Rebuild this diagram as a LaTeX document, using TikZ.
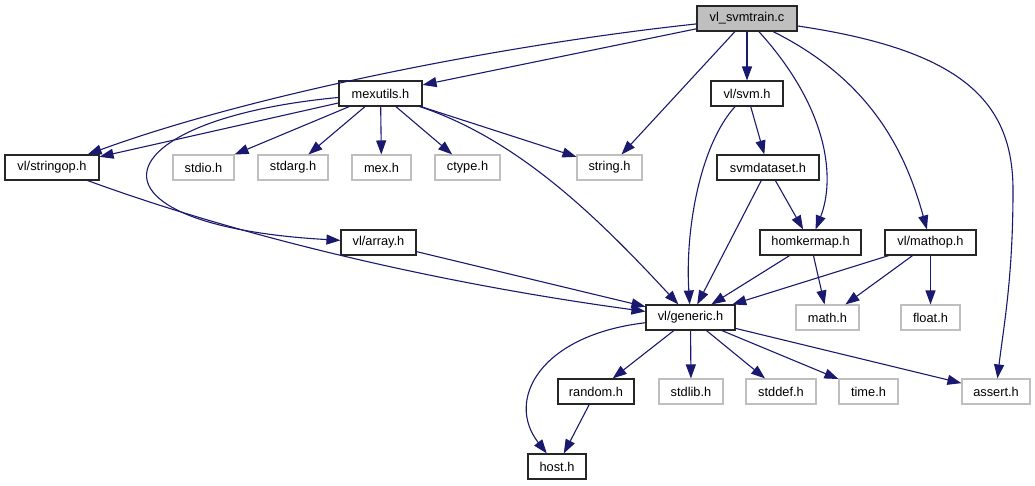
\documentclass[tikz,border=0pt]{standalone}
\usepackage{fontspec}
\setmainfont{Liberation Sans}
\usepackage{tikz}
\usetikzlibrary{arrows.meta}
\usepackage{xcolor}
\definecolor{edgeblue}{HTML}{191970}
\definecolor{boxgray}{HTML}{BFBFBF}

\begin{document}
\begin{tikzpicture}[x=1pt, y=-1pt, >={Triangle[length=14pt, width=10pt]},
        hdr/.style={draw=black!85, line width=1.1pt, minimum height=25pt, inner sep=0pt, font=\fontsize{12.8}{14}\selectfont},
        sys/.style={hdr, draw=boxgray},
        dep/.style={->, edgeblue, line width=1.1pt}]
        \useasboundingbox (0,0) rectangle (1035,485);
        \node (train) [hdr, fill=boxgray, minimum width=100pt] at (747,18.5) {vl\_svmtrain.c};
        \node (mexutils) [hdr, minimum width=83pt] at (380.5,93.5) {mexutils.h};
        \node (svm) [hdr, minimum width=72pt] at (747,93.5) {vl/svm.h};
        \node (stringop) [hdr, minimum width=94pt] at (52,167.5) {vl/stringop.h};
        \node (stdio) [sys, minimum width=61pt] at (203.5,167.5) {stdio.h};
        \node (stdarg) [sys, minimum width=70pt] at (293,167.5) {stdarg.h};
        \node (mex) [sys, minimum width=59pt] at (381.5,167.5) {mex.h};
        \node (ctype) [sys, minimum width=65pt] at (467.5,167.5) {ctype.h};
        \node (string) [sys, minimum width=65pt] at (609.5,167.5) {string.h};
        \node (svmdataset) [hdr, minimum width=102pt] at (768,167.5) {svmdataset.h};
        \node (array) [hdr, minimum width=75pt] at (378.5,242.5) {vl/array.h};
        \node (homkermap) [hdr, minimum width=101pt] at (810.5,242.5) {homkermap.h};
        \node (mathop) [hdr, minimum width=91pt] at (930.5,242.5) {vl/mathop.h};
        \node (generic) [hdr, minimum width=89pt] at (690.5,317.5) {vl/generic.h};
        \node (math) [sys, minimum width=63pt] at (827.5,317.5) {math.h};
        \node (float) [sys, minimum width=59pt] at (930.5,317.5) {float.h};
        \node (random) [hdr, minimum width=76pt] at (596,391.5) {random.h};
        \node (stdlib) [sys, minimum width=64pt] at (691,391.5) {stdlib.h};
        \node (stddef) [sys, minimum width=70pt] at (781,391.5) {stddef.h};
        \node (time) [sys, minimum width=59pt] at (868.5,391.5) {time.h};
        \node (assert) [sys, minimum width=68pt] at (996,391.5) {assert.h};
        \node (host) [hdr, minimum width=58pt] at (557,466.5) {host.h};

        \draw [dep] (train) .. controls (500,45) and (250,95) .. (stringop);
        \draw [dep] (train) -- (mexutils);
        \draw [dep] (train) -- (string);
        \draw [dep] (train) -- (svm);
        \draw [dep] (train) .. controls (830,110) and (835,180) .. (homkermap);
        \draw [dep] (train) .. controls (870,80) and (905,150) .. (mathop);
        \draw [dep] (train) .. controls (960,50) and (1013,100) .. (1013,190) .. controls (1013,280) and (1003,330) .. (assert);
        \draw [dep] (mexutils) -- (stringop);
        \draw [dep] (mexutils) .. controls (100,120) and (70,225) .. (array);
        \draw [dep] (mexutils) -- (stdio);
        \draw [dep] (mexutils) -- (stdarg);
        \draw [dep] (mexutils) -- (mex);
        \draw [dep] (mexutils) -- (ctype);
        \draw [dep] (mexutils) -- (string);
        \draw [dep] (mexutils) .. controls (520,140) and (600,220) .. (generic);
        \draw [dep] (svm) -- (svmdataset);
        \draw [dep] (svm) .. controls (700,145) and (685,230) .. (generic);
        \draw [dep] (svmdataset) -- (homkermap);
        \draw [dep] (svmdataset) -- (generic);
        \draw [dep] (stringop) .. controls (250,240) and (450,285) .. (generic);
        \draw [dep] (array) -- (generic);
        \draw [dep] (homkermap) -- (generic);
        \draw [dep] (homkermap) -- (math);
        \draw [dep] (mathop) -- (generic);
        \draw [dep] (mathop) -- (math);
        \draw [dep] (mathop) -- (float);
        \draw [dep] (generic) .. controls (540,335) and (505,400) .. (host);
        \draw [dep] (generic) -- (random);
        \draw [dep] (generic) -- (stdlib);
        \draw [dep] (generic) -- (stddef);
        \draw [dep] (generic) -- (time);
        \draw [dep] (generic) -- (assert);
        \draw [dep] (random) -- (host);
    \end{tikzpicture}
\end{document}
